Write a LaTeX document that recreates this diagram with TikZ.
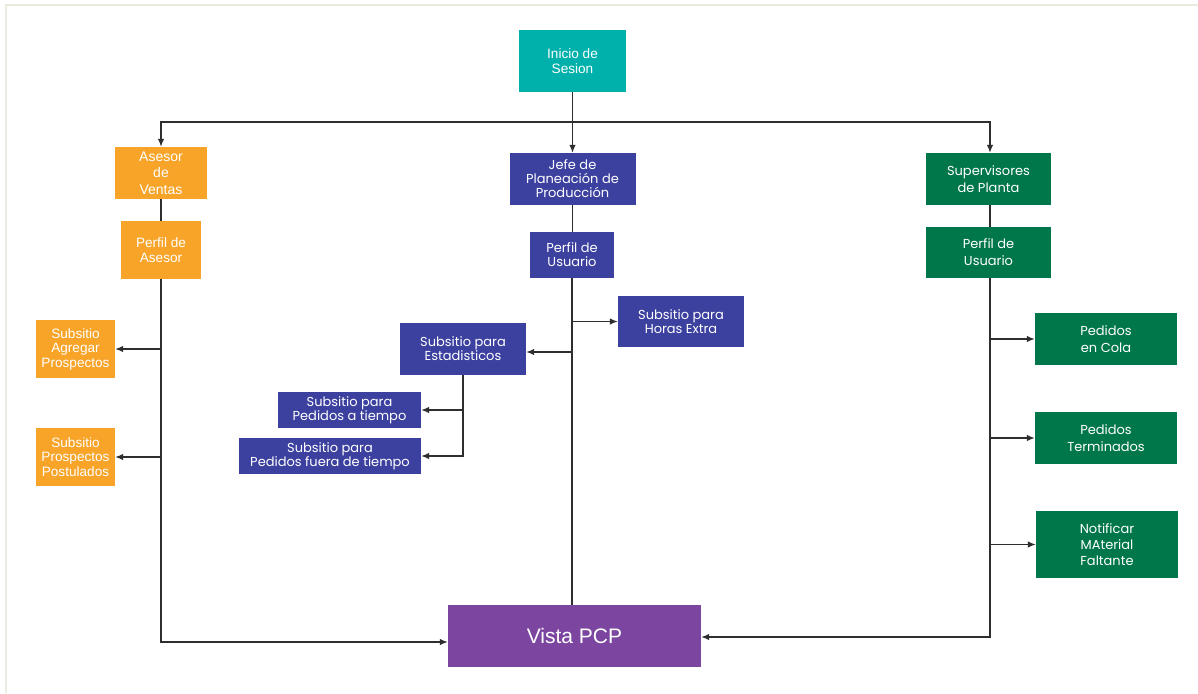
\documentclass[tikz,border=0pt]{standalone}
\usepackage{fontspec}
\usetikzlibrary{arrows.meta}
\setmainfont{Liberation Sans}
\newfontfamily\gothic{Poppins}
\definecolor{frameC}{HTML}{EDEAE0}
\definecolor{tealC}{HTML}{00B1AB}
\definecolor{orangeC}{HTML}{F7A428}
\definecolor{blueC}{HTML}{3C41A0}
\definecolor{greenC}{HTML}{00774A}
\definecolor{purpleC}{HTML}{7B45A0}
\definecolor{lineC}{HTML}{2E2E2E}
\tikzset{
  box/.style={rectangle, inner sep=0pt, text=white, align=center},
  arialbox/.style={box, font=\fontsize{13.6}{14.5}\selectfont},
  gothbox/.style={box, font=\gothic\fontsize{13}{14}\selectfont},
  tealbox/.style={arialbox, fill=tealC},
  orangebox/.style={arialbox, fill=orangeC},
  bluebox/.style={gothbox, fill=blueC},
  greenbox/.style={gothbox, fill=greenC},
  link/.style={draw=lineC, line width=1.3pt},
  arr/.style={link, -{Latex[length=8pt,width=6.5pt]}},
}
\begin{document}
\begin{tikzpicture}[x=1pt,y=-1pt]
\useasboundingbox (0,0) rectangle (1198,693);
\fill[white] (0,0) rectangle (1198,693);
% page frame
\draw[frameC, line width=2.5pt] (6,693) -- (6,5) -- (1198,5);

% top
\node[tealbox, minimum width=107, minimum height=62] (inicio) at (572.5,61) {Inicio de\\Sesion};

% sales column
\node[orangebox, minimum width=92, minimum height=52, font=\fontsize{14}{16.5}\selectfont] (asesor) at (161,173) {Asesor\\de\\Ventas};
\node[orangebox, minimum width=80, minimum height=58] (perfilA) at (161,250) {Perfil de\\Asesor};
\node[orangebox, minimum width=79, minimum height=58] (agregar) at (75.5,349) {Subsitio\\Agregar\\Prospectos};
\node[orangebox, minimum width=79, minimum height=58] (postul) at (75.5,457) {Subsitio\\Prospectos\\Postulados};

% planning column
\node[bluebox, minimum width=126, minimum height=52] (jefe) at (572.5,179) {Jefe de\\Planeación de\\Producción};
\node[bluebox, minimum width=84, minimum height=46] (perfilU) at (572,255) {Perfil de\\Usuario};
\node[bluebox, minimum width=126, minimum height=51] (horas) at (681,321.5) {Subsitio para\\Horas Extra};
\node[bluebox, minimum width=126, minimum height=52] (estad) at (463,349) {Subsitio para\\Estadisticos};
\node[bluebox, minimum width=143, minimum height=36] (tiempo) at (349.5,410) {Subsitio para\\Pedidos a tiempo};
\node[bluebox, minimum width=182, minimum height=36] (fuera) at (330,456) {Subsitio para\\Pedidos fuera de tiempo};

% plant column
\node[greenbox, minimum width=125, minimum height=52, font=\gothic\fontsize{13}{17}\selectfont] (superv) at (988.5,179) {Supervisores\\de Planta};
\node[greenbox, minimum width=125, minimum height=51, font=\gothic\fontsize{13}{17}\selectfont] (perfilV) at (988.5,252.5) {Perfil de\\Usuario};
\node[greenbox, minimum width=142, minimum height=52, font=\gothic\fontsize{13}{17}\selectfont] (cola) at (1106,339) {Pedidos\\en Cola};
\node[greenbox, minimum width=142, minimum height=52, font=\gothic\fontsize{13}{17}\selectfont] (term) at (1106,438) {Pedidos\\Terminados};
\node[greenbox, minimum width=142, minimum height=67, font=\gothic\fontsize{13}{16}\selectfont] (notif) at (1107,544.5) {Notificar\\MAterial\\Faltante};

% bottom
\node[box, fill=purpleC, minimum width=253, minimum height=62, font=\fontsize{21}{25}\selectfont] (vista) at (574.5,636) {Vista PCP};

% distribution from the login
\coordinate (split) at (572.5,122);
\draw[arr] (inicio.south) -- (jefe.north);
\draw[arr] (split) -| (asesor.north);
\draw[arr] (split) -| ([xshift=1.5pt]superv.north);

% sales branch
\draw[link] (asesor) -- (perfilA);
\draw[arr] (perfilA.south) |- ([yshift=-6pt]vista.west);
\draw[arr] (perfilA.south |- agregar.east) -- (agregar.east);
\draw[arr] (perfilA.south |- postul.east) -- (postul.east);

% planning branch
\draw[link] (jefe) -- (perfilU.north -| jefe.south);
\draw[link] (perfilU.south) -- (perfilU.south |- vista.north);
\draw[arr] (perfilU.south |- horas.west) -- (horas.west);
\draw[arr] ([yshift=-3pt]perfilU.south |- estad.east) -- ([yshift=-3pt]estad.east);
\draw[arr] (estad.south) |- (fuera.east);
\draw[arr] (estad.south |- tiempo.east) -- (tiempo.east);

% plant branch
\coordinate (pv) at ([xshift=1.5pt]perfilV.south);
\draw[link] ([xshift=1.5pt]superv.south) -- ([xshift=1.5pt]perfilV.north);
\draw[arr] (pv) |- ([yshift=-1pt]vista.east);
\draw[arr] (pv |- cola.west) -- (cola.west);
\draw[arr] (pv |- term.west) -- (term.west);
\draw[arr] (pv |- notif.west) -- (notif.west);
\end{tikzpicture}
\end{document}
